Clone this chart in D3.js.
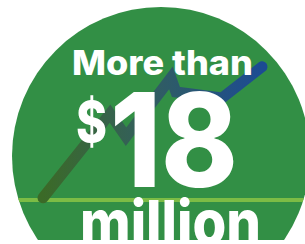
<!DOCTYPE html>
<html>
<head>
  <meta charset="utf-8">
  <script src="https://d3js.org/d3.v7.min.js"></script>
  <style>
    html, body { margin: 0; padding: 0; background: #fff; }
    svg { display: block; }
    text { font-family: "Inter", "Open Sans", sans-serif; font-weight: 800; fill: #fff; }
  </style>
</head>
<body>
  <script>
    // Growth line (arbitrary time units, value in $ millions)
    var steps = [0, 30.6, 37.9, 58.4, 60.7, 81.7, 100];
    var millions = [0.3, 11.6, 8.5, 16.4, 14.5, 13.7, 17.9];
    var baseline = [0];

    var width = 305,
        height = 244;

    var svg = d3.select("body").append("svg")
      .attr("width", width)
      .attr("height", height);

    var x = d3.scaleLinear().domain([0, 100]).range([43, 262]);
    var y = d3.scaleLinear().domain([0, 18]).range([200, 66]);

    var defs = svg.append("defs");

    // Circle clip, also cut off at the bottom
    var clip = defs.append("clipPath").attr("id", "disc");
    clip.append("circle").attr("cx", 161).attr("cy", 156).attr("r", 149);
    var cut = defs.append("clipPath").attr("id", "bottom");
    cut.append("rect").attr("x", 0).attr("y", 0).attr("width", width).attr("height", 240);

    // Gradient for the line: olive green -> blue
    var grad = defs.append("linearGradient")
      .attr("id", "lineGrad")
      .attr("gradientUnits", "userSpaceOnUse")
      .attr("x1", x(0)).attr("y1", 0)
      .attr("x2", x(100)).attr("y2", 0);
    grad.append("stop").attr("offset", "0%").attr("stop-color", "#3b6a27");
    grad.append("stop").attr("offset", "45%").attr("stop-color", "#335f5c");
    grad.append("stop").attr("offset", "100%").attr("stop-color", "#1c4b93");

    var g = svg.append("g").attr("clip-path", "url(#bottom)");
    var inner = g.append("g").attr("clip-path", "url(#disc)");

    inner.append("rect")
      .attr("x", 0).attr("y", 0)
      .attr("width", width).attr("height", height)
      .attr("fill", "#328f45");

    // Baseline
    inner.selectAll(".base")
      .data(baseline)
      .enter()
      .append("line")
      .attr("x1", 0).attr("x2", width)
      .attr("y1", function(d) { return y(d); })
      .attr("y2", function(d) { return y(d); })
      .attr("stroke", "#7cbc45")
      .attr("stroke-width", 4);

    // Line
    var pts = steps.map(function(s, i) { return [s, millions[i]]; });
    var line = d3.line()
      .x(function(d) { return x(d[0]); })
      .y(function(d) { return y(d[1]); });

    inner.append("path")
      .datum(pts)
      .attr("d", line)
      .attr("fill", "none")
      .attr("stroke", "url(#lineGrad)")
      .attr("stroke-width", 11)
      .attr("stroke-linecap", "round")
      .attr("stroke-linejoin", "miter");

    // Text
    g.append("text")
      .attr("x", 72).attr("y", 75)
      .attr("font-size", 34)
      .attr("textLength", 181)
      .attr("lengthAdjust", "spacingAndGlyphs")
      .text("More than");

    g.append("text")
      .attr("x", 76).attr("y", 142)
      .attr("font-size", 56)
      .attr("textLength", 31)
      .attr("lengthAdjust", "spacingAndGlyphs")
      .text("$");

    g.append("text")
      .attr("x", 110).attr("y", 187)
      .attr("font-size", 130)
      .attr("textLength", 128)
      .attr("lengthAdjust", "spacingAndGlyphs")
      .text("18");

    g.append("text")
      .attr("x", 80).attr("y", 244)
      .attr("font-size", 61)
      .attr("textLength", 181)
      .attr("lengthAdjust", "spacingAndGlyphs")
      .text("million");
  </script>
</body>
</html>
